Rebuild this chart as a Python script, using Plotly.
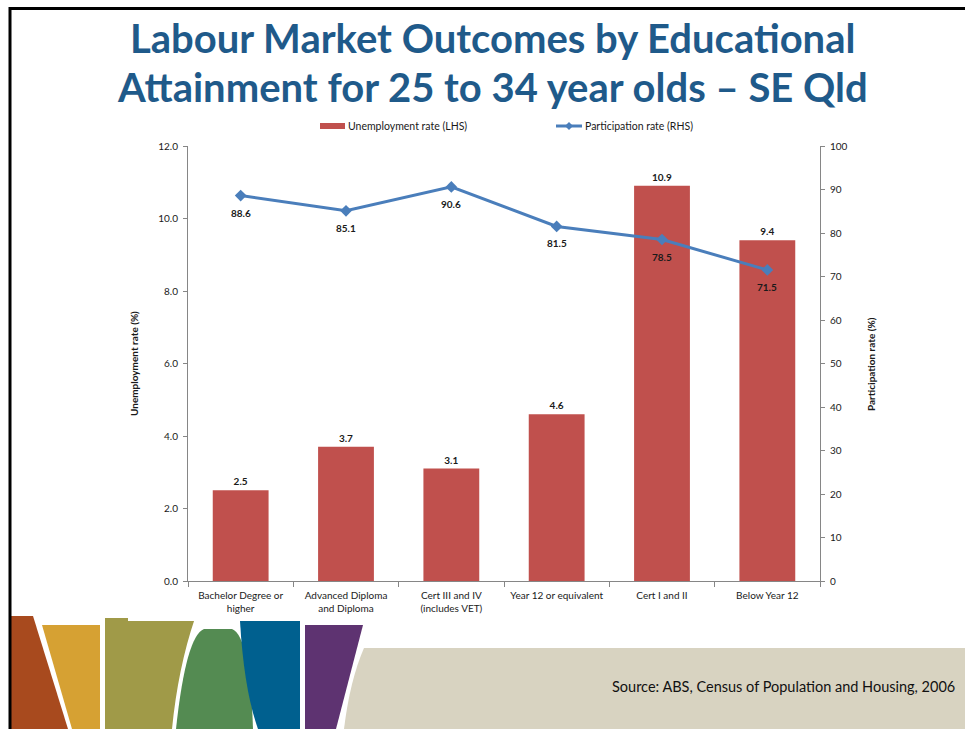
import plotly.graph_objects as go

# ---- data -------------------------------------------------------------
categories = [
    "Bachelor Degree or<br>higher",
    "Advanced Diploma<br>and Diploma",
    "Cert III and IV<br>(includes VET)",
    "Year 12 or equivalent",
    "Cert I and II",
    "Below Year 12",
]
unemployment_rate = [2.5, 3.7, 3.1, 4.6, 10.9, 9.4]      # LHS, %
participation_rate = [88.6, 85.1, 90.6, 81.5, 78.5, 71.5]  # RHS, %
left_ticks = [0, 2, 4, 6, 8, 10, 12]
right_ticks = [0, 10, 20, 30, 40, 50, 60, 70, 80, 90, 100]

# ---- page geometry helpers (figure uses zero margins, so paper == page) --
W, H = 965, 729


def px(x):
    return x / W


def py(y):
    return 1 - y / H


def path(points, curves=None):
    """Closed SVG path in paper coordinates from page-pixel points.
    curves maps a point index to the control point of the segment ending there."""
    d = ""
    for i, (x, y) in enumerate(points):
        if curves and i in curves:
            cx, cy = curves[i]
            d += f" Q{px(cx)},{py(cy)} {px(x)},{py(y)}"
        else:
            d += f" {'M' if i == 0 else 'L'}{px(x)},{py(y)}"
    return d + " Z"


FONT = "Lato, 'Open Sans', sans-serif"
TXT = "#1a1a1a"
AXIS = "#868686"
BAR = "#C0504D"
LINE = "#4A7EBB"

fig = go.Figure()

fig.add_trace(go.Bar(
    x=categories, y=unemployment_rate, name="Unemployment rate (LHS)",
    marker=dict(color=BAR, line=dict(width=0)),
    texttemplate="<b>%{y:.1f}</b>", textposition="outside",
    textfont=dict(size=10, color=TXT, family=FONT), cliponaxis=False,
    yaxis="y", showlegend=False,
))
fig.add_trace(go.Scatter(
    x=categories, y=participation_rate, name="Participation rate (RHS)",
    mode="lines+markers",
    line=dict(color=LINE, width=3),
    marker=dict(symbol="diamond", size=9, color=LINE),
    yaxis="y2", showlegend=False, cliponaxis=False,
))

shapes = []

# decorative banner at the foot of the slide
banner = [
    ("#A84A1E", [(11, 616), (33, 616), (68, 729), (11, 729)], None),
    ("#D6A133", [(42, 625), (100, 625), (100, 729), (72, 729)], None),
    ("#A09A48", [(105, 618), (195, 618), (172, 729), (105, 729)], {2: (178, 668)}),
    ("#548B52", [(176, 729), (204, 629), (232, 629), (253, 729)], {1: (186, 636), 3: (250, 636)}),
    ("#00608F", [(240, 621), (300, 621), (300, 729), (258, 729), (240, 621)], {4: (244, 690)}),
    ("#5E3371", [(305, 625), (363, 625), (336, 729), (305, 729)], None),
    ("#D8D3C1", [(364, 648), (965, 648), (965, 729), (344, 729), (364, 648)], {4: (350, 680)}),
]
for color, pts, curves in banner:
    shapes.append(dict(type="path", xref="paper", yref="paper", path=path(pts, curves),
                       fillcolor=color, line=dict(width=0), layer="below"))

# white chart panel overlapping the banner
shapes.append(dict(type="rect", xref="paper", yref="paper",
                   x0=px(128), x1=px(840), y0=py(621), y1=py(112),
                   fillcolor="white", line=dict(width=0), layer="below"))

# slide frame: top and left rules
shapes.append(dict(type="line", xref="paper", yref="paper",
                   x0=px(9), x1=px(965), y0=py(8.5), y1=py(8.5),
                   line=dict(color="black", width=3)))
shapes.append(dict(type="line", xref="paper", yref="paper",
                   x0=px(10), x1=px(10), y0=py(7), y1=py(729),
                   line=dict(color="black", width=3)))

# legend (LHS bar swatch and RHS line swatch)
shapes.append(dict(type="rect", xref="paper", yref="paper",
                   x0=px(320), x1=px(345), y0=py(129), y1=py(123),
                   fillcolor=BAR, line=dict(width=0)))
shapes.append(dict(type="line", xref="paper", yref="paper",
                   x0=px(556), x1=px(582), y0=py(126), y1=py(126),
                   line=dict(color=LINE, width=3)))
shapes.append(dict(type="path", xref="paper", yref="paper",
                   path=path([(569, 122), (573, 126), (569, 130), (565, 126)]),
                   fillcolor=LINE, line=dict(width=0)))

TITLE_FONT = dict(family=FONT, size=40, color="#1F5A8A")
annotations = [
    dict(text="<b>Labour Market Outcomes by Educational</b>",
         x=px(492), y=py(38), xref="paper", yref="paper", showarrow=False,
         xanchor="center", yanchor="middle", font=TITLE_FONT),
    dict(text="<b>Attainment for 25 to 34 year olds – SE Qld</b>",
         x=px(492), y=py(87), xref="paper", yref="paper", showarrow=False,
         xanchor="center", yanchor="middle", font=TITLE_FONT),
    dict(text="Unemployment rate (LHS)", x=px(346), y=py(126), xref="paper", yref="paper",
         xanchor="left", yanchor="middle", showarrow=False,
         font=dict(family=FONT, size=10.5, color=TXT)),
    dict(text="Participation rate (RHS)", x=px(583), y=py(126), xref="paper", yref="paper",
         xanchor="left", yanchor="middle", showarrow=False,
         font=dict(family=FONT, size=10.5, color=TXT)),
    dict(text="<b>Unemployment rate (%)</b>", x=px(134), y=py(364), xref="paper", yref="paper",
         xanchor="center", yanchor="middle", textangle=-90, showarrow=False,
         font=dict(family=FONT, size=10, color=TXT)),
    dict(text="<b>Participation rate (%)</b>", x=px(871), y=py(364), xref="paper", yref="paper",
         xanchor="center", yanchor="middle", textangle=-90, showarrow=False,
         font=dict(family=FONT, size=10, color=TXT)),
    dict(text="Source: ABS, Census of Population and Housing, 2006", x=px(957), y=py(686),
         xref="paper", yref="paper", xanchor="right", yanchor="middle", showarrow=False,
         font=dict(family=FONT, size=14.5, color="#111111")),
]

# participation-rate value labels, placed under each point
for cat, val in zip(categories, participation_rate):
    annotations.append(dict(text=f"<b>{val:.1f}</b>", x=cat, y=val, xref="x", yref="y2",
                            showarrow=False, yshift=-17, yanchor="middle",
                            font=dict(family=FONT, size=10, color=TXT)))

fig.update_layout(
    width=W, height=H, margin=dict(l=0, r=0, t=0, b=0),
    paper_bgcolor="white", plot_bgcolor="rgba(0,0,0,0)",
    bargap=0.47, showlegend=False,
    font=dict(family=FONT, size=10, color=TXT),
    shapes=shapes, annotations=annotations,
    xaxis=dict(domain=[px(188), px(820)], type="category", tickson="boundaries",
               showline=True, linecolor=AXIS, linewidth=1, ticks="outside", ticklen=5,
               tickcolor=AXIS, showgrid=False, tickfont=dict(size=10, color=TXT),
               tickangle=0, ticklabelstandoff=5, automargin=False),
    yaxis=dict(domain=[py(581), py(146)], range=[0, 12], tickvals=left_ticks,
               tickformat=".1f", showline=True, linecolor=AXIS, linewidth=1,
               ticks="outside", ticklen=4, tickcolor=AXIS, showgrid=False,
               zeroline=False, tickfont=dict(size=10, color=TXT),
               ticklabelstandoff=3, automargin=False),
    yaxis2=dict(overlaying="y", side="right", range=[0, 100], tickvals=right_ticks,
                showline=True, linecolor=AXIS, linewidth=1, ticks="outside", ticklen=4,
                tickcolor=AXIS, showgrid=False, zeroline=False,
                tickfont=dict(size=10, color=TXT), ticklabelstandoff=3, automargin=False),
)

fig.write_html("out.html")
